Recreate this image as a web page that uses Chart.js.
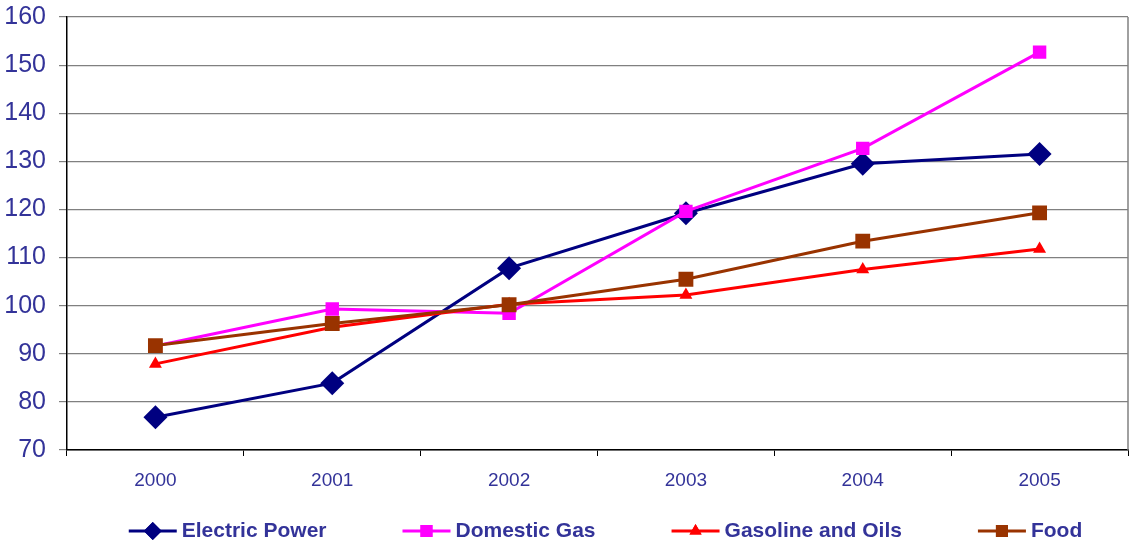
<!DOCTYPE html>
<html>
<head>
<meta charset="utf-8">
<script src="https://cdn.jsdelivr.net/npm/chart.js@4"></script>
<style>
  html, body { margin: 0; padding: 0; background: #fff; overflow: hidden; }
  canvas { display: block; }
</style>
</head>
<body>
<canvas id="chart" width="1131" height="541"></canvas>
<script>
// 数据
const years = ['2000', '2001', '2002', '2003', '2004', '2005'];
const electricPower = [76.8, 83.9, 107.8, 119.2, 129.5, 131.5];
const domesticGas = [91.6, 99.3, 98.4, 119.6, 132.7, 152.7];
const gasolineOils = [87.9, 95.5, 100.3, 102.2, 107.5, 111.8];
const food = [91.7, 96.3, 100.2, 105.5, 113.4, 119.3];

const textColor = '#333399';
const fontFamily = '"Liberation Sans", Arial, sans-serif';

// 右侧边框 + 底部图例（线段 + 标记）
const lineLegend = {
    id: 'lineLegend',
    afterDraw(chart) {
        const ctx = chart.ctx;
        const area = chart.chartArea;
        ctx.save();
        ctx.strokeStyle = '#808080';
        ctx.lineWidth = 1.5;
        ctx.beginPath();
        ctx.moveTo(area.right, area.top);
        ctx.lineTo(area.right, area.bottom);
        ctx.stroke();

        const sample = 48, gap = 5, spacing = 76;
        ctx.font = 'bold 21px ' + fontFamily;
        const items = chart.data.datasets.map(ds => ({ ds, w: sample + gap + ctx.measureText(ds.label).width }));
        const total = items.reduce((s, it) => s + it.w, 0) + spacing * (items.length - 1);
        let x = (area.left + area.right) / 2 + 8 - total / 2;
        const y = 531;
        items.forEach(it => {
            const ds = it.ds;
            ctx.strokeStyle = ds.borderColor;
            ctx.lineWidth = 3;
            ctx.beginPath();
            ctx.moveTo(x, y);
            ctx.lineTo(x + sample, y);
            ctx.stroke();
            ctx.fillStyle = ds.borderColor;
            Chart.helpers.drawPoint(ctx, {
                pointStyle: ds.pointStyle, rotation: 0, borderWidth: 0,
                radius: ds.legendRadius
            }, x + sample / 2, y);
            ctx.fill();
            ctx.fillStyle = textColor;
            ctx.textBaseline = 'middle';
            ctx.textAlign = 'left';
            ctx.fillText(ds.label, x + sample + gap, y);
            x += it.w + spacing;
        });
        ctx.restore();
    }
};

function series(label, data, color, style, radius, legendRadius, order) {
    return {
        label, data, order,
        borderColor: color, backgroundColor: color,
        borderWidth: 3, tension: 0,
        pointStyle: style, pointRadius: radius, pointHoverRadius: radius,
        pointBackgroundColor: color, pointBorderColor: color, pointBorderWidth: 0,
        legendRadius
    };
}

window.onload = function() {
    const ctx = document.getElementById('chart').getContext('2d');
    new Chart(ctx, {
        type: 'line',
        data: {
            labels: years,
            datasets: [
                series('Electric Power', electricPower, '#000080', 'rectRot', 12, 9, 4),
                series('Domestic Gas', domesticGas, '#FF00FF', 'rect', 9.5, 8.5, 3),
                series('Gasoline and Oils', gasolineOils, '#FF0000', 'triangle', 7.5, 7, 2),
                series('Food', food, '#993300', 'rect', 10.5, 8.5, 1)
            ]
        },
        options: {
            responsive: false, animation: false,
            layout: { autoPadding: false, padding: { top: 17, right: 3, bottom: 46, left: 0 } },
            plugins: { legend: { display: false }, tooltip: { enabled: false } },
            scales: {
                x: {
                    offset: true,
                    grid: { offset: true, drawOnChartArea: false, tickLength: 6, color: '#000', lineWidth: 1 },
                    border: { color: '#000', width: 1.5 },
                    ticks: { color: textColor, font: { family: fontFamily, size: 19 }, padding: 13 },
                    afterFit: s => { s.height = 45; s.paddingLeft = 0; s.paddingRight = 0; }
                },
                y: {
                    min: 70, max: 160,
                    grid: { color: '#808080', lineWidth: 1.2, tickLength: 8 },
                    border: { color: '#000', width: 1.5 },
                    ticks: { stepSize: 10, color: textColor, font: { family: fontFamily, size: 25 }, padding: 13 },
                    afterFit: s => { s.width = 67; s.paddingTop = 0; s.paddingBottom = 0; }
                }
            }
        },
        plugins: [lineLegend]
    });
};
</script>
</body>
</html>
